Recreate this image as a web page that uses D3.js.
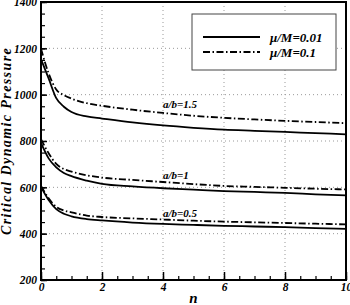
<!DOCTYPE html>
<html>
<head>
<meta charset="utf-8">
<script src="https://cdn.jsdelivr.net/npm/d3@7"></script>
<style>
  body { margin: 0; background: #fff; }
  svg text { font-family: "Liberation Serif", "DejaVu Serif", serif; font-weight: bold; font-style: italic; }
</style>
</head>
<body>
<div id="chart"></div>
<script>
// ── data ───────────────────────────────────────────────
const nVals   = [0, 0.25, 0.5, 0.75, 1, 1.5, 2, 3, 4, 5, 6, 7, 8, 9, 10];

// mu/M = 0.01 (solid)
const ab15Lo  = [1153, 1070, 985, 948, 925, 906, 897, 880, 867, 857, 849, 844, 839, 834, 829];
const ab1Lo   = [792, 725, 686, 662, 648, 629, 615, 604, 596, 590, 584, 580, 576, 570, 565];
const ab05Lo  = [602, 545, 506, 486, 475, 463, 457, 448, 442, 438, 434, 431, 428, 424, 421];

// mu/M = 0.1 (dash-dot)
const ab15Hi  = [1198, 1092, 1022, 998, 983, 963, 952, 935, 921, 909, 900, 893, 887, 882, 877];
const ab1Hi   = [808, 747, 701, 679, 668, 652, 642, 632, 623, 614, 606, 602, 598, 594, 591];
const ab05Hi  = [606, 553, 516, 500, 492, 478, 472, 466, 461, 456, 452, 449, 446, 443, 440];

const curveLabels = ["a/b=1.5", "a/b=1", "a/b=0.5"];
const labelN      = [4, 4, 4];
const labelV      = [943, 636, 472];

const legendText  = ["\u03bc/M=0.01", "\u03bc/M=0.1"];
const xTicks      = [0, 2, 4, 6, 8, 10];
const yTicks      = [200, 400, 600, 800, 1000, 1200, 1400];

// ── layout ─────────────────────────────────────────────
const W = 350, H = 305;
const M = { top: 2, right: 4, bottom: 25, left: 41 };
const iW = W - M.left - M.right;
const iH = H - M.top - M.bottom;
const DASHDOT = "7,2.5,1.5,2.5";

const x = d3.scaleLinear().domain([0, 10]).range([0, iW]);
const y = d3.scaleLinear().domain([200, 1400]).range([iH, 0]);

const svg = d3.select("#chart").append("svg").attr("width", W).attr("height", H);
const g   = svg.append("g").attr("transform", `translate(${M.left},${M.top})`);

// grid
g.append("g").selectAll("line").data(yTicks.slice(1, -1)).join("line")
  .attr("x1", 0).attr("x2", iW).attr("y1", d => y(d)).attr("y2", d => y(d))
  .attr("stroke", "#999").attr("stroke-width", 1).attr("stroke-dasharray", "1,3");
g.append("g").selectAll("line").data(xTicks.slice(1, -1)).join("line")
  .attr("x1", d => x(d)).attr("x2", d => x(d)).attr("y1", 0).attr("y2", iH)
  .attr("stroke", "#999").attr("stroke-width", 1).attr("stroke-dasharray", "1,3");

// axes (ticks inward)
g.append("g").attr("transform", `translate(0,${iH})`)
  .call(d3.axisBottom(x).tickValues(d3.range(0, 10.01, 0.5)).tickSize(-4).tickFormat(""))
  .call(ax => ax.select(".domain").remove())
  .call(ax => ax.selectAll("line").attr("stroke", "#000").attr("stroke-width", 1.2));
g.append("g").attr("transform", `translate(0,${iH})`)
  .call(d3.axisBottom(x).tickValues(xTicks).tickSize(-8).tickPadding(3).tickFormat(d3.format("d")))
  .call(ax => ax.select(".domain").remove())
  .call(ax => ax.selectAll("line").attr("stroke", "#000").attr("stroke-width", 1.5))
  .call(ax => ax.selectAll("text").attr("fill", "#000").attr("font-size", 11.5));

g.append("g")
  .call(d3.axisLeft(y).tickValues(d3.range(200, 1401, 50)).tickSize(-4).tickFormat(""))
  .call(ax => ax.select(".domain").remove())
  .call(ax => ax.selectAll("line").attr("stroke", "#000").attr("stroke-width", 1.2));
g.append("g")
  .call(d3.axisLeft(y).tickValues(yTicks).tickSize(-6).tickPadding(4).tickFormat(d3.format("d")))
  .call(ax => ax.select(".domain").remove())
  .call(ax => ax.selectAll("line").attr("stroke", "#000").attr("stroke-width", 1.5))
  .call(ax => ax.selectAll("text").attr("fill", "#000").attr("font-size", 11.5));

// curves
const line = d3.line().x((d, i) => x(nVals[i])).y(d => y(d)).curve(d3.curveMonotoneX);
[ab15Lo, ab1Lo, ab05Lo].forEach(s => {
  g.append("path").datum(s).attr("d", line)
    .attr("fill", "none").attr("stroke", "#000").attr("stroke-width", 1.8);
});
[ab15Hi, ab1Hi, ab05Hi].forEach(s => {
  g.append("path").datum(s).attr("d", line)
    .attr("fill", "none").attr("stroke", "#000").attr("stroke-width", 1.8)
    .attr("stroke-dasharray", DASHDOT);
});

// curve labels
curveLabels.forEach((t, i) => {
  g.append("text").attr("x", x(labelN[i])).attr("y", y(labelV[i]))
    .attr("font-size", 11).attr("fill", "#000").text(t);
});

// frame
g.append("rect").attr("width", iW).attr("height", iH)
  .attr("fill", "none").attr("stroke", "#000").attr("stroke-width", 2);

// legend
const lg = svg.append("g").attr("transform", "translate(192,14)");
lg.append("rect").attr("width", 144).attr("height", 56)
  .attr("fill", "#fff").attr("stroke", "#444").attr("stroke-width", 1);
legendText.forEach((t, i) => {
  const ly = 23 + i * 15;
  lg.append("line").attr("x1", 11).attr("x2", 68).attr("y1", ly).attr("y2", ly)
    .attr("stroke", "#000").attr("stroke-width", 1.8)
    .attr("stroke-dasharray", i === 1 ? DASHDOT : null);
  lg.append("text").attr("x", 78).attr("y", ly + 4.5)
    .attr("font-size", 13).attr("fill", "#000").text(t);
});

// axis titles
svg.append("text").attr("x", M.left + iW / 2).attr("y", 303)
  .attr("text-anchor", "middle").attr("font-size", 15).text("n");
svg.append("text")
  .attr("transform", `translate(11,${M.top + iH / 2}) rotate(-90)`)
  .attr("text-anchor", "middle").attr("font-size", 14).attr("letter-spacing", 1.4)
  .text("Critical Dynamic Pressure");
</script>
</body>
</html>
